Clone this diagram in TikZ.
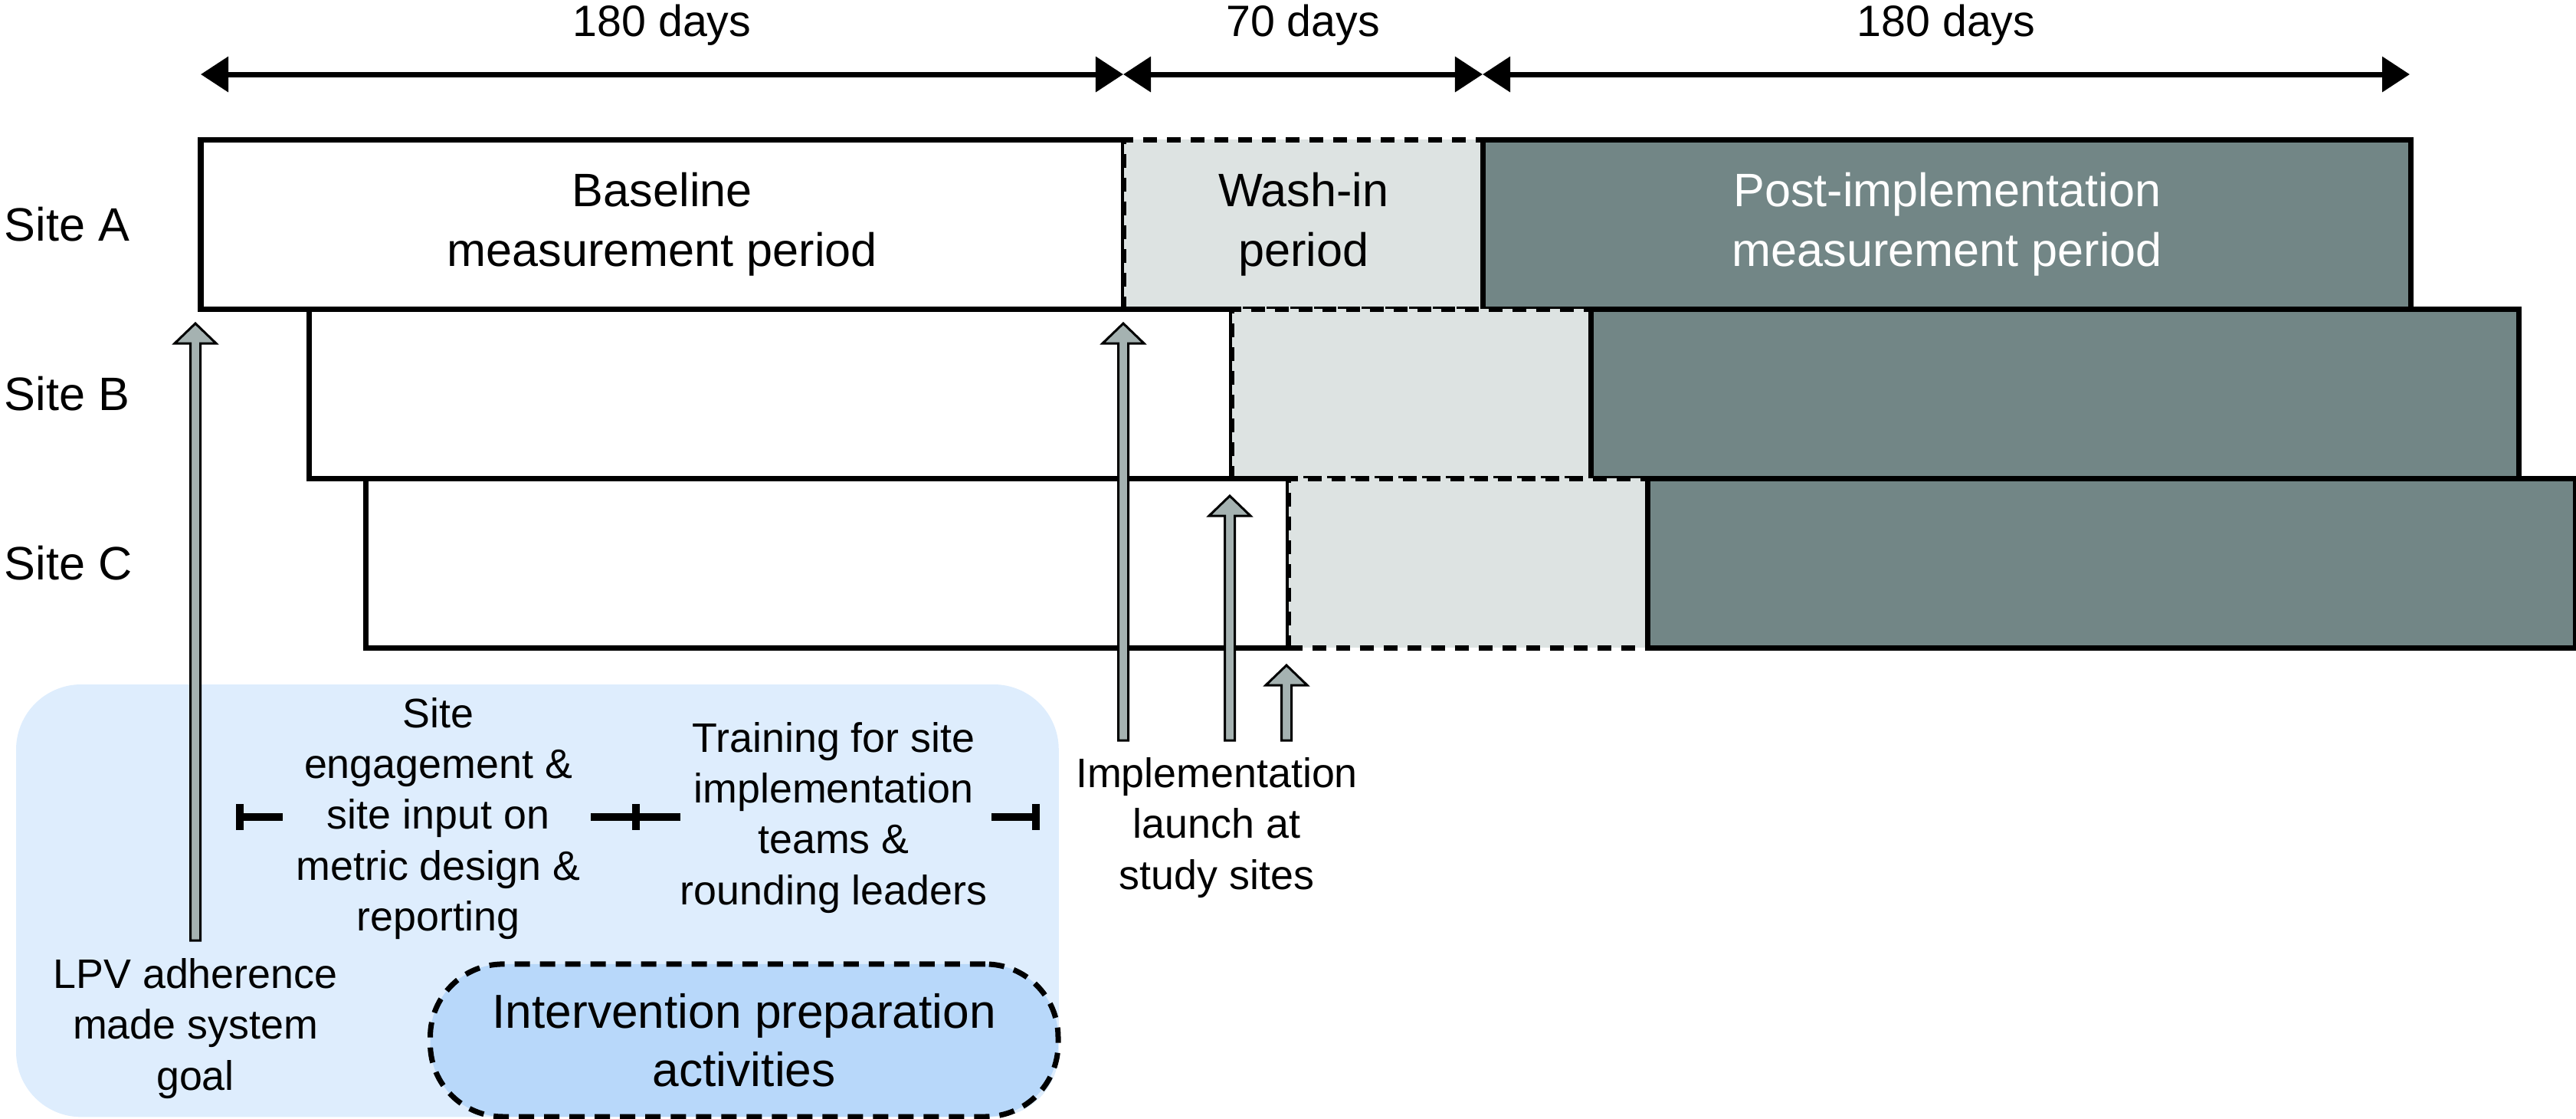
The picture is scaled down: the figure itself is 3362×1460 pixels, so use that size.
\documentclass[tikz,border=0pt]{standalone}
\usepackage{fontspec}
\setmainfont{Liberation Sans}
\usetikzlibrary{positioning,arrows.meta,calc}
\definecolor{washgray}{HTML}{DDE3E2}
\definecolor{postgray}{HTML}{728686}
\definecolor{arrowgray}{HTML}{A5B2B1}
\definecolor{prepbg}{HTML}{DEEDFD}
\definecolor{prepfill}{HTML}{B8D8FA}
\newcommand\toptext{\fontsize{17.4}{22}\selectfont}
\newcommand\daytext{\fontsize{16.3}{20}\selectfont}
\newcommand\lowtext{\fontsize{15.3}{18.8}\selectfont}
\newcommand\blockarrow[2]{\draw[launch] ($(#1)+(-6.5,0)$) -- ($(#2)+(-6.5,26)$) -- ($(#2)+(-27,26)$) -- (#2) -- ($(#2)+(27,26)$) -- ($(#2)+(6.5,26)$) -- ($(#1)+(6.5,0)$) -- cycle;}
\tikzset{
  period/.style={draw, line width=0.07cm, outer sep=0pt, inner sep=0pt, minimum height=2.21cm, align=center, font=\toptext},
  basebox/.style={period, fill=white, minimum width=12.04cm},
  washbox/.style={period, fill=washgray, dash pattern=on 0.18cm off 0.13cm, minimum width=4.69cm},
  postbox/.style={period, fill=postgray, text=white, minimum width=12.10cm},
  dim/.style={line width=0.07cm, {Triangle[length=0.36cm,width=0.45cm]}-{Triangle[length=0.36cm,width=0.45cm]}},
  daylabel/.style={above=0.34cm, inner sep=0pt, font=\daytext},
  sitelabel/.style={anchor=west, inner sep=0pt, font=\toptext},
  lowlabel/.style={align=center, inner sep=0pt, font=\lowtext},
  launch/.style={draw=black, fill=arrowgray, line width=0.03cm, line join=miter},
  tick/.style={line width=0.1cm},
}

\begin{document}
\begin{tikzpicture}[x=0.01cm,y=-0.01cm]
  \useasboundingbox (0,0) rectangle (3362,1460);
  \node[fill=prepbg, rounded corners=0.85cm, minimum width=13.6cm, minimum height=5.64cm, outer sep=0pt, anchor=north west] (prepbg) at (21,893) {};

  \node[basebox, anchor=north west] (a0) at (262,182) {Baseline\\measurement period};
  \node[washbox, right=0pt of a0] (a1) {Wash-in\\period};
  \node[postbox, right=0pt of a1] (a2) {Post-implementation\\measurement period};
  \node[basebox, anchor=north west] (b0) at (403,403) {};
  \node[washbox, right=0pt of b0] (b1) {};
  \node[postbox, right=0pt of b1] (b2) {};
  \node[basebox, anchor=north west] (c0) at (477,624) {};
  \node[washbox, right=0pt of c0] (c1) {};
  \node[postbox, right=0pt of c1] (c2) {};

  \node[sitelabel] (sa) at (5,293) {Site A};
  \node[sitelabel] (sb) at (5,514) {Site B};
  \node[sitelabel] (sc) at (5,735) {Site C};

  \coordinate (d0) at (262,97);
  \coordinate (d1) at (1466,97);
  \coordinate (d2) at (1935,97);
  \coordinate (d3) at (3145,97);
  \draw[dim] (d0) -- node[daylabel] {180 days} (d1);
  \draw[dim] (d1) -- node[daylabel] {70 days} (d2);
  \draw[dim] (d2) -- node[daylabel] {180 days} (d3);

  \coordinate (lpvtail) at (255,1227);
  \coordinate (lpvhead) at (255,422);
  \coordinate (tail1) at (1466,966);
  \coordinate (head1) at (1466,422);
  \coordinate (tail2) at (1605,966);
  \coordinate (head2) at (1605,647);
  \coordinate (tail3) at (1679,966);
  \coordinate (head3) at (1679,868);
  \blockarrow{lpvtail}{lpvhead}
  \blockarrow{tail1}{head1}
  \blockarrow{tail2}{head2}
  \blockarrow{tail3}{head3}

  \node[lowlabel] (eng) at (572,1068) {Site\\engagement \&\\site input on\\metric design \&\\reporting};
  \node[lowlabel] (train) at (1088,1067) {Training for site\\implementation\\teams \&\\rounding leaders};
  \node[lowlabel] (impl) at (1588,1080) {Implementation\\launch at\\study sites};
  \node[lowlabel] (lpv) at (255,1342) {LPV adherence\\made system\\goal};

  \draw[tick] (313,1049) -- (313,1083) (313,1066) -- (369,1066);
  \draw[tick] (771,1066) -- (888,1066) (830,1049) -- (830,1083);
  \draw[tick] (1294,1066) -- (1352,1066) (1352,1049) -- (1352,1083);

  \node[draw, fill=prepfill, line width=0.07cm, dash pattern=on 0.2cm off 0.13cm, rounded corners=0.95cm, minimum width=8.19cm, minimum height=1.99cm, outer sep=0pt, align=center, font=\fontsize{17.7}{21.6}\selectfont, anchor=south east] (act) at (1381,1457) {Intervention preparation\\activities};
\end{tikzpicture}
\end{document}
